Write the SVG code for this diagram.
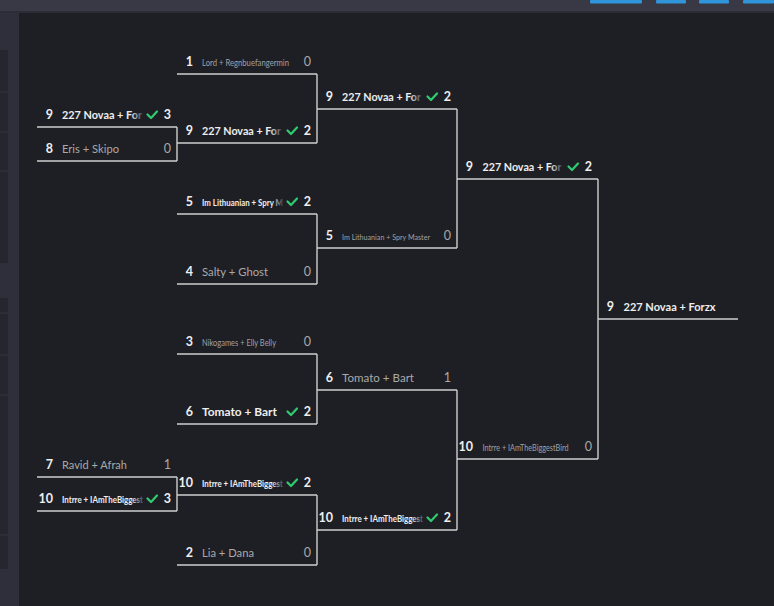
<svg xmlns="http://www.w3.org/2000/svg" width="774" height="606" viewBox="0 0 774 606">
<defs>
<linearGradient id="fade" x1="0" y1="0" x2="1" y2="0">
<stop offset="0" stop-color="#eeeeee"/>
<stop offset="0.86" stop-color="#eeeeee"/>
<stop offset="1" stop-color="#eeeeee" stop-opacity="0.15"/>
</linearGradient>
<style>
text{font-family:Lato,"Liberation Sans",sans-serif;}
.seed{font-size:12.5px;font-weight:bold;fill:#eeeeee;text-anchor:end;}
.nw{font-size:12px;font-weight:bold;fill:#eeeeee;}
.nl{font-size:12px;fill:#a9a9a9;}
.sw{font-size:8.5px;font-weight:bold;fill:#eeeeee;}
.sl{font-size:8.5px;fill:#a0a0a8;}
.fd{fill:url(#fade);}
.sw2{font-size:12.5px;font-weight:bold;fill:#eeeeee;text-anchor:end;}
.sl2{font-size:12.5px;fill:#a9a9a9;text-anchor:end;}
.ln{stroke:#cfcfcf;stroke-width:1.4;fill:none;}
.ck{stroke:#2ecc71;stroke-width:2.2;fill:none;stroke-linecap:round;stroke-linejoin:round;}
</style>
</defs>
<rect x="0" y="0" width="774" height="606" fill="#1e1f24"/>
<rect x="0" y="0" width="19" height="606" fill="#2e2f3b"/>
<rect x="0" y="50" width="8" height="213" fill="#26272e"/>
<rect x="0" y="298" width="8" height="271" fill="#26272e"/>
<g stroke="#34353f" stroke-width="1">
<line x1="0" y1="92" x2="8" y2="92"/><line x1="0" y1="132" x2="8" y2="132"/><line x1="0" y1="171" x2="8" y2="171"/>
<line x1="0" y1="313" x2="8" y2="313"/><line x1="0" y1="355" x2="8" y2="355"/><line x1="0" y1="395" x2="8" y2="395"/><line x1="0" y1="535" x2="8" y2="535"/>
</g>
<rect x="0" y="0" width="774" height="11" fill="#383944"/>
<rect x="0" y="11" width="774" height="2" fill="#2b2c35"/>
<g fill="#3195dc">
<rect x="590" y="0" width="52" height="3.5" rx="1"/>
<rect x="656" y="0" width="30" height="3.5" rx="1"/>
<rect x="699" y="0" width="30" height="3.5" rx="1"/>
<rect x="743" y="0" width="31" height="3.5" rx="1"/>
</g>

<g id="connectors" class="ln">
<line x1="177" y1="127" x2="177" y2="161"/>
<line x1="177" y1="477" x2="177" y2="511"/>
<line x1="317" y1="74" x2="317" y2="143"/>
<line x1="317" y1="214" x2="317" y2="284"/>
<line x1="317" y1="354" x2="317" y2="424"/>
<line x1="317" y1="495" x2="317" y2="565"/>
<line x1="457" y1="109" x2="457" y2="248"/>
<line x1="457" y1="390" x2="457" y2="530"/>
<line x1="598" y1="179" x2="598" y2="459"/>
</g>

<!-- Round 1 -->
<g id="r1-novaa">
<line class="ln" x1="37" y1="127" x2="177" y2="127"/>
<text class="seed" x="53" y="118.5">9</text>
<text class="nw fd" x="62" y="118.5" textLength="80" lengthAdjust="spacingAndGlyphs">227 Novaa + For</text>
<polyline class="ck" points="147.5,114.5 151,118 157,111.5"/>
<text class="sw2" x="171" y="118.5">3</text>
</g>
<g id="r1-eris">
<line class="ln" x1="37" y1="161" x2="177" y2="161"/>
<text class="seed" x="53" y="152.5">8</text>
<text class="nl" x="62" y="152.5" textLength="57" lengthAdjust="spacingAndGlyphs">Eris + Skipo</text>
<text class="sl2" x="171" y="152.5">0</text>
</g>
<g id="r1-ravid">
<line class="ln" x1="37" y1="477" x2="177" y2="477"/>
<text class="seed" x="53" y="468.5">7</text>
<text class="nl" x="62" y="468.5" textLength="65" lengthAdjust="spacingAndGlyphs">Ravid + Afrah</text>
<text class="sl2" x="171" y="468.5">1</text>
</g>
<g id="r1-intrre">
<line class="ln" x1="37" y1="511" x2="177" y2="511"/>
<text class="seed" x="53" y="502.5">10</text>
<text class="sw fd" x="62" y="502.5" textLength="81" lengthAdjust="spacingAndGlyphs">Intrre + IAmTheBiggest</text>
<polyline class="ck" points="147.5,498.5 151,502 157,495.5"/>
<text class="sw2" x="171" y="502.5">3</text>
</g>

<!-- Round 2 -->
<g id="r2-lord">
<line class="ln" x1="177" y1="74" x2="317" y2="74"/>
<text class="seed" x="193" y="65.5">1</text>
<text class="sl" x="202" y="65.5" textLength="87" lengthAdjust="spacingAndGlyphs">Lord + Regnbuefangermin</text>
<text class="sl2" x="311" y="65.5">0</text>
</g>
<g id="r2-novaa">
<line class="ln" x1="177" y1="143" x2="317" y2="143"/>
<text class="seed" x="193" y="134.5">9</text>
<text class="nw fd" x="202" y="134.5" textLength="79" lengthAdjust="spacingAndGlyphs">227 Novaa + For</text>
<polyline class="ck" points="287.5,130.5 291,134 297,127.5"/>
<text class="sw2" x="311" y="134.5">2</text>
</g>
<g id="r2-lithuanian">
<line class="ln" x1="177" y1="214" x2="317" y2="214"/>
<text class="seed" x="193" y="205.5">5</text>
<text class="sw fd" x="202" y="205.5" textLength="81" lengthAdjust="spacingAndGlyphs">Im Lithuanian + Spry M</text>
<polyline class="ck" points="287.5,201.5 291,205 297,198.5"/>
<text class="sw2" x="311" y="205.5">2</text>
</g>
<g id="r2-salty">
<line class="ln" x1="177" y1="284" x2="317" y2="284"/>
<text class="seed" x="193" y="275.5">4</text>
<text class="nl" x="202" y="275.5" textLength="66" lengthAdjust="spacingAndGlyphs">Salty + Ghost</text>
<text class="sl2" x="311" y="275.5">0</text>
</g>
<g id="r2-niko">
<line class="ln" x1="177" y1="354" x2="317" y2="354"/>
<text class="seed" x="193" y="345.5">3</text>
<text class="sl" x="202" y="345.5" textLength="74" lengthAdjust="spacingAndGlyphs">Nikogames + Elly Belly</text>
<text class="sl2" x="311" y="345.5">0</text>
</g>
<g id="r2-tomato">
<line class="ln" x1="177" y1="424" x2="317" y2="424"/>
<text class="seed" x="193" y="415.5">6</text>
<text class="nw" x="202" y="415.5" textLength="75" lengthAdjust="spacingAndGlyphs">Tomato + Bart</text>
<polyline class="ck" points="287.5,411.5 291,415 297,408.5"/>
<text class="sw2" x="311" y="415.5">2</text>
</g>
<g id="r2-intrre">
<line class="ln" x1="177" y1="495" x2="317" y2="495"/>
<text class="seed" x="193" y="486.5">10</text>
<text class="sw fd" x="202" y="486.5" textLength="81" lengthAdjust="spacingAndGlyphs">Intrre + IAmTheBiggest</text>
<polyline class="ck" points="287.5,482.5 291,486 297,479.5"/>
<text class="sw2" x="311" y="486.5">2</text>
</g>
<g id="r2-lia">
<line class="ln" x1="177" y1="565" x2="317" y2="565"/>
<text class="seed" x="193" y="556.5">2</text>
<text class="nl" x="202" y="556.5" textLength="52" lengthAdjust="spacingAndGlyphs">Lia + Dana</text>
<text class="sl2" x="311" y="556.5">0</text>
</g>

<!-- Round 3 -->
<g id="r3-novaa">
<line class="ln" x1="317" y1="109" x2="457" y2="109"/>
<text class="seed" x="333" y="100.5">9</text>
<text class="nw fd" x="342" y="100.5" textLength="79" lengthAdjust="spacingAndGlyphs">227 Novaa + For</text>
<polyline class="ck" points="427.5,96.5 431,100 437,93.5"/>
<text class="sw2" x="451" y="100.5">2</text>
</g>
<g id="r3-lithuanian">
<line class="ln" x1="317" y1="248" x2="457" y2="248"/>
<text class="seed" x="333" y="239.5">5</text>
<text class="sl" x="342" y="239.5" style="font-size:7.6px" textLength="88" lengthAdjust="spacingAndGlyphs">Im Lithuanian + Spry Master</text>
<text class="sl2" x="451" y="239.5">0</text>
</g>
<g id="r3-tomato">
<line class="ln" x1="317" y1="390" x2="457" y2="390"/>
<text class="seed" x="333" y="381.5">6</text>
<text class="nl" x="342" y="381.5" textLength="72" lengthAdjust="spacingAndGlyphs">Tomato + Bart</text>
<text class="sl2" x="451" y="381.5">1</text>
</g>
<g id="r3-intrre">
<line class="ln" x1="317" y1="530" x2="457" y2="530"/>
<text class="seed" x="333" y="521.5">10</text>
<text class="sw fd" x="342" y="521.5" textLength="81" lengthAdjust="spacingAndGlyphs">Intrre + IAmTheBiggest</text>
<polyline class="ck" points="427.5,517.5 431,521 437,514.5"/>
<text class="sw2" x="451" y="521.5">2</text>
</g>

<!-- Round 4 -->
<g id="r4-novaa">
<line class="ln" x1="457" y1="179" x2="598" y2="179"/>
<text class="seed" x="473" y="170.5">9</text>
<text class="nw fd" x="482.5" y="170.5" textLength="79" lengthAdjust="spacingAndGlyphs">227 Novaa + For</text>
<polyline class="ck" points="568.5,166.5 572,170 578,163.5"/>
<text class="sw2" x="592" y="170.5">2</text>
</g>
<g id="r4-intrre">
<line class="ln" x1="457" y1="459" x2="598" y2="459"/>
<text class="seed" x="473" y="450.5">10</text>
<text class="sl" x="482.5" y="450.5" textLength="86" lengthAdjust="spacingAndGlyphs">Intrre + IAmTheBiggestBird</text>
<text class="sl2" x="592" y="450.5">0</text>
</g>

<!-- Final -->
<g id="final-winner">
<line class="ln" x1="598" y1="319" x2="738" y2="319"/>
<text class="seed" x="614" y="310.5">9</text>
<text class="nw" x="623.5" y="310.5" textLength="92" lengthAdjust="spacingAndGlyphs">227 Novaa + Forzx</text>
</g>
</svg>
